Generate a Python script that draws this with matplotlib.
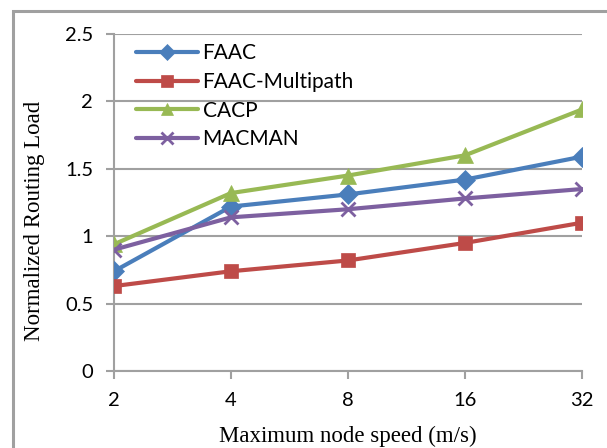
import matplotlib

matplotlib.use("Agg")
import matplotlib.pyplot as plt
from matplotlib.patches import Rectangle

# Normalized routing load vs. maximum node speed
speeds = ["2", "4", "8", "16", "32"]
faac = [0.74, 1.22, 1.31, 1.42, 1.59]
faac_multipath = [0.63, 0.74, 0.82, 0.95, 1.10]
cacp = [0.94, 1.32, 1.45, 1.60, 1.94]
macman = [0.90, 1.14, 1.20, 1.28, 1.35]

series = [
    ("FAAC", faac, "#4A7EBB", "D", 10),
    ("FAAC-Multipath", faac_multipath, "#BE4B48", "s", 10),
    ("CACP", cacp, "#98B954", "^", 11),
    ("MACMAN", macman, "#7D60A0", "x", 10),
]

W, H = 607, 448
fig = plt.figure(figsize=(W / 100, H / 100), dpi=100)
ax = fig.add_axes([114 / W, 1 - 371 / H, (582 - 114) / W, (371 - 34) / H])

# chart frame
fig.patches.append(Rectangle((13 / W, -0.1), 1.2, 1 - 11 / H + 0.1,
                             transform=fig.transFigure, fill=False,
                             edgecolor="#A0A0A0", linewidth=2.2))

x = list(range(len(speeds)))
for name, vals, color, marker, ms in series:
    ax.plot(x, vals, color=color, linewidth=3, marker=marker, markersize=ms,
            markeredgewidth=2 if marker == "x" else 0.5,
            markeredgecolor=color, label=name, solid_capstyle="round",
            zorder=3)

ax.set_xlim(0, len(speeds) - 1)
ax.set_ylim(0, 2.5)
ax.set_xticks(x)
ax.set_xticklabels(speeds)
ax.set_yticks([0, 0.5, 1, 1.5, 2, 2.5])
ax.set_yticklabels(["0", "0.5", "1", "1.5", "2", "2.5"])

grid_color = "#A0A0A0"
ax.grid(axis="y", color=grid_color, linewidth=1.5, zorder=0)
for side in ("top", "right"):
    ax.spines[side].set_visible(False)
for side in ("left", "bottom"):
    ax.spines[side].set_color(grid_color)
    ax.spines[side].set_linewidth(1.5)
ax.tick_params(direction="out", length=6, width=1.5, color=grid_color,
               labelsize=14.5, pad=9)
for lbl in ax.get_xticklabels() + ax.get_yticklabels():
    lbl.set_family("Lato")

fig.text(348 / W, 1 - 436 / H, "Maximum node speed (m/s)",
         family="Liberation Serif", fontsize=16.5, ha="center", va="center")
fig.text(35 / W, 1 - 221 / H, "Normalized Routing Load",
         family="Liberation Serif", fontsize=16.5, ha="center", va="center",
         rotation=90)

leg = ax.legend(loc="upper left", bbox_to_anchor=(0.02, 1.01), frameon=False,
                prop={"family": "Lato", "size": 15}, handlelength=3.0,
                handletextpad=0.2, labelspacing=0.42, borderaxespad=0.2,
                markerscale=0.85)

fig.savefig("out.png", dpi=100)
